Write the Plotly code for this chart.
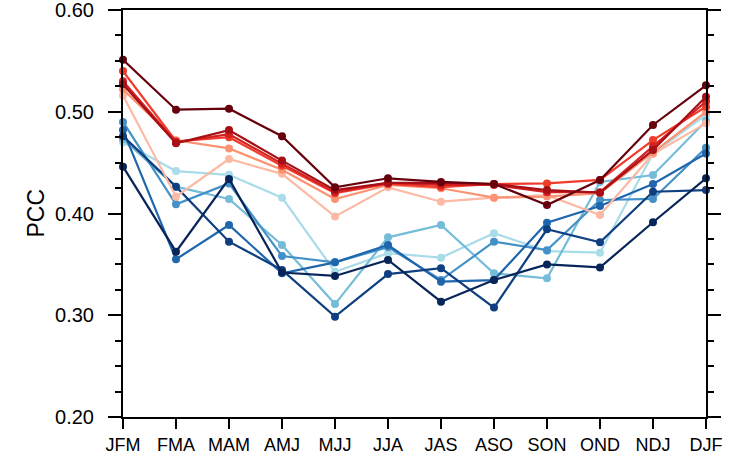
import plotly.graph_objects as go

seasons = ["JFM", "FMA", "MAM", "AMJ", "MJJ", "JJA", "JAS", "ASO", "SON", "OND", "NDJ", "DJF"]
y_ticks = [0.2, 0.3, 0.4, 0.5, 0.6]
y_ticklabels = ["0.20", "0.30", "0.40", "0.50", "0.60"]

# blue group (lightest -> darkest)
b1 = [0.470, 0.4417, 0.438, 0.4156, 0.3428, 0.361, 0.3566, 0.3806, 0.3631, 0.3615, 0.459, 0.497]
b2 = [0.473, 0.4264, 0.4143, 0.369, 0.311, 0.3766, 0.3887, 0.3412, 0.3363, 0.431, 0.4378, 0.491]
b3 = [0.490, 0.409, 0.4296, 0.3582, 0.352, 0.367, 0.3346, 0.3723, 0.364, 0.4133, 0.4143, 0.4647]
b4 = [0.482, 0.355, 0.3887, 0.3412, 0.352, 0.369, 0.333, 0.3346, 0.391, 0.4074, 0.429, 0.459]
b5 = [0.476, 0.4264, 0.3723, 0.3445, 0.2986, 0.3405, 0.3462, 0.3075, 0.3845, 0.3717, 0.4214, 0.423]
b6 = [0.446, 0.3625, 0.434, 0.342, 0.3386, 0.3543, 0.3133, 0.3346, 0.350, 0.347, 0.3914, 0.4346]

# red group (lightest -> darkest)
r6 = [0.516, 0.4165, 0.4535, 0.439, 0.397, 0.4257, 0.4116, 0.4156, 0.418, 0.3985, 0.4585, 0.4886]
r5 = [0.522, 0.472, 0.464, 0.443, 0.4143, 0.428, 0.4248, 0.4156, 0.4166, 0.420, 0.460, 0.500]
r4 = [0.540, 0.471, 0.475, 0.447, 0.420, 0.429, 0.426, 0.429, 0.4296, 0.433, 0.4722, 0.505]
r3 = [0.530, 0.470, 0.478, 0.449, 0.421, 0.430, 0.428, 0.428, 0.421, 0.421, 0.466, 0.510]
r2 = [0.527, 0.469, 0.482, 0.452, 0.423, 0.430, 0.430, 0.429, 0.423, 0.4205, 0.4624, 0.5148]
r1 = [0.551, 0.502, 0.503, 0.476, 0.4257, 0.4346, 0.431, 0.429, 0.4084, 0.4329, 0.487, 0.526]

series = [
    (b1, "#a8dce9"), (b2, "#74bcd8"), (b3, "#4391c6"), (b4, "#1f66ad"),
    (b5, "#0f3f80"), (b6, "#08255a"),
    (r6, "#fcb9a3"), (r5, "#fc9272"), (r4, "#f03b2a"), (r3, "#d42020"),
    (r2, "#a50f15"), (r1, "#67000d"),
]

fig = go.Figure()
for vals, col in series:
    fig.add_trace(go.Scatter(
        x=seasons, y=vals, mode="lines+markers",
        line=dict(color=col, width=2.2),
        marker=dict(color=col, size=8),
        cliponaxis=False, showlegend=False,
    ))

font = "Liberation Sans, Arial, Helvetica, sans-serif"
fig.update_layout(
    width=738, height=456,
    margin=dict(l=123, r=32, t=10, b=39),
    paper_bgcolor="white", plot_bgcolor="white",
    font=dict(family=font, color="black"),
    xaxis=dict(
        type="category", range=[0, 11], automargin=False,
        showgrid=False, zeroline=False,
        showline=True, linecolor="black", linewidth=2, mirror=True,
        ticks="outside", ticklen=10, tickwidth=2, tickcolor="black",
        tickfont=dict(size=18, family=font),
    ),
    yaxis=dict(
        range=[0.2, 0.6], tickmode="array", tickvals=y_ticks, ticktext=y_ticklabels,
        automargin=False, ticklabeloverflow="allow",
        showgrid=False, zeroline=False,
        showline=True, linecolor="black", linewidth=2, mirror="ticks",
        ticks="outside", ticklen=13, tickwidth=2, tickcolor="black",
        tickfont=dict(size=20, family=font),
        ticklabelstandoff=10,
        minor=dict(dtick=0.025, tick0=0.2, ticks="outside", ticklen=6,
                   tickwidth=1.5, tickcolor="black", showgrid=False),
    ),
    annotations=[dict(
        text="PCC", xref="paper", yref="paper", x=0, y=0.5,
        xanchor="center", yanchor="middle", xshift=-88,
        textangle=-90, showarrow=False, font=dict(size=23, family=font),
    )],
)

fig.write_html("out.html", config={"displayModeBar": False},
               post_script="document.body.style.margin='0';")
